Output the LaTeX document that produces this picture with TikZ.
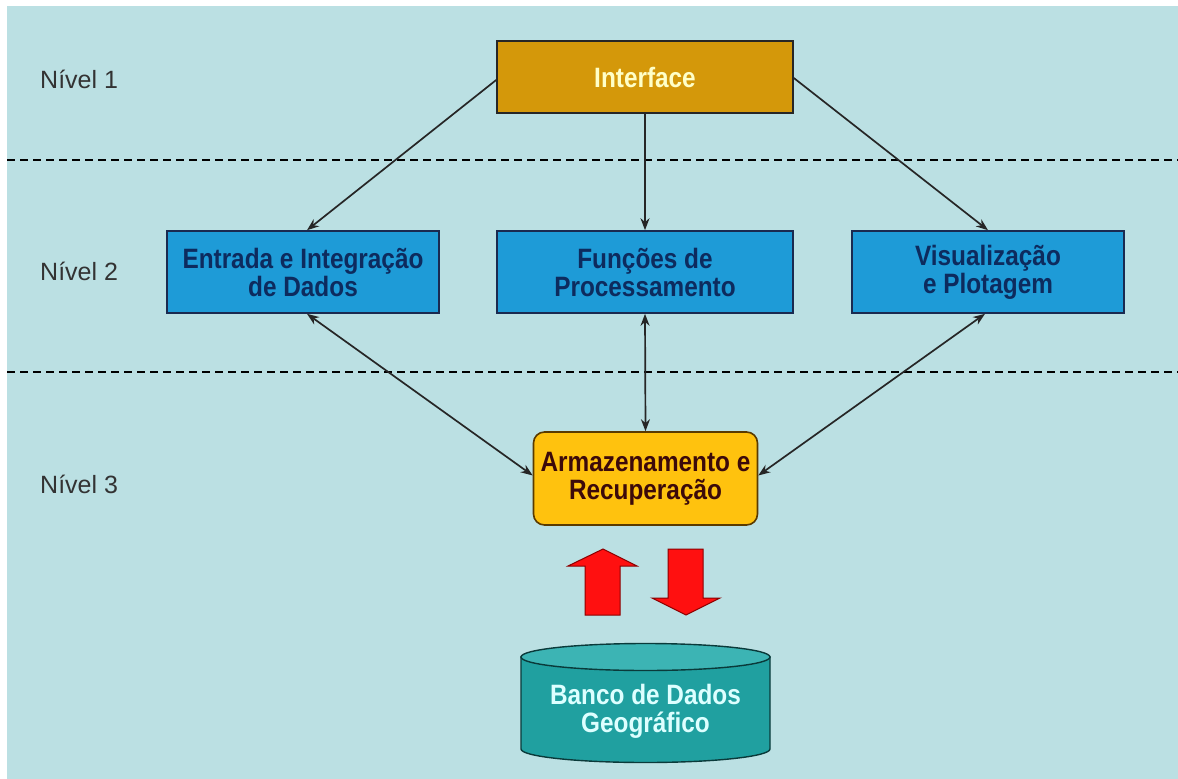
\documentclass[tikz,border=0pt]{standalone}
\usepackage{fontspec}
\setmainfont{Liberation Sans}
\newfontfamily\bxfont{Liberation Sans}[FakeStretch=0.87]
\usetikzlibrary{arrows.meta}
\definecolor{bgblue}{HTML}{BBE0E3}
\definecolor{ifill}{HTML}{D4980A}
\definecolor{itext}{HTML}{FFFFC8}
\definecolor{bfill}{HTML}{1E9BD7}
\definecolor{btext}{HTML}{0D2B5E}
\definecolor{bdraw}{HTML}{1A2A50}
\definecolor{afill}{HTML}{FFC20E}
\definecolor{atext}{HTML}{3C0A0A}
\definecolor{adraw}{HTML}{5A3A00}
\definecolor{cbody}{HTML}{20A0A0}
\definecolor{ctop}{HTML}{3CB4B4}
\definecolor{ctext}{HTML}{DDFFFF}
\definecolor{cdraw}{HTML}{0A3A3A}
\definecolor{rfill}{HTML}{FF1010}
\definecolor{rdraw}{HTML}{8B0000}
\definecolor{lvl}{HTML}{333333}
\tikzset{
  boxtxt/.style={font=\bxfont\bfseries\fontsize{28}{28}\selectfont, align=center, inner sep=0pt},
  ibox/.style={boxtxt, draw=black!85, line width=1.6pt, fill=ifill, text=itext, minimum width=296pt, minimum height=72pt},
  bbox/.style={boxtxt, draw=bdraw, line width=1.6pt, fill=bfill, text=btext, minimum height=82pt},
  abox/.style={boxtxt, draw=adraw, line width=1.6pt, fill=afill, text=atext, rounded corners=11pt, minimum width=224pt, minimum height=93pt},
  lvltxt/.style={font=\fontsize{25}{28}\selectfont, text=lvl, anchor=west, inner sep=0pt},
  conn/.style={line width=1.7pt, draw=black!85, -{Stealth[length=12pt,width=9pt]}},
  biconn/.style={line width=1.7pt, draw=black!85, {Stealth[length=12pt,width=9pt]}-{Stealth[length=12pt,width=9pt]}},
  sep/.style={line width=1.5pt, dash pattern=on 8pt off 5pt},
  bigarrow/.style={fill=rfill, draw=rdraw, line width=1pt, line join=miter}
}
\begin{document}
\begin{tikzpicture}[x=1pt,y=-1pt]
\useasboundingbox (0,0) rectangle (1178,779);
\fill[white] (0,0) rectangle (1178,779);
\fill[bgblue] (7,6) rectangle (1178,779);

% separators
\coordinate (s1a) at (7,160);  \coordinate (s1b) at (1178,160);
\coordinate (s2a) at (7,372);  \coordinate (s2b) at (1178,372);
\draw[sep] (s1a) -- (s1b);
\draw[sep] (s2a) -- (s2b);

% level labels
\node[lvltxt] (n1) at (40,79) {Nível 1};
\node[lvltxt] (n2) at (40,271) {Nível 2};
\node[lvltxt] (n3) at (40,484) {Nível 3};

% boxes
\node[ibox] (interface) at (645,77) {Interface};
\node[bbox, minimum width=272pt] (entrada) at (303,272) {Entrada e Integração\\de Dados};
\node[bbox, minimum width=296pt] (funcoes) at (645,272) {Funções de\\Processamento};
\node[bbox, minimum width=272pt] (visual) at (988,272) {Visualização\\e Plotagem};
\node[abox] (armaz) at (645.5,478.5) {Armazenamento e\\Recuperação};

% connectors
\draw[conn] ([yshift=-3pt]interface.west) -- ([xshift=4pt]entrada.north);
\draw[conn] (interface.south) -- (funcoes.north);
\draw[conn] ([yshift=-1pt]interface.east) -- (visual.north);
\draw[biconn] ([xshift=4pt]entrada.south) -- ([yshift=3pt]armaz.west);
\draw[biconn] (funcoes.south) -- (armaz.north);
\draw[biconn] ([xshift=-3pt]visual.south) -- ([yshift=3pt]armaz.east);

% red block arrows
\draw[bigarrow] (585,615) -- (585,566) -- (568,566) -- (603,549) -- (637,566) -- (620,566) -- (620,615) -- cycle;
\draw[bigarrow] (668,549) -- (703,549) -- (703,598) -- (720,598) -- (686,615) -- (652,598) -- (668,598) -- cycle;

% database cylinder
\draw[fill=cbody, draw=cdraw, line width=1.4pt]
  (521,657) -- (521,749) arc[start angle=180, end angle=360, x radius=124.5pt, y radius=13.5pt] -- (770,657) -- cycle;
\draw[fill=ctop, draw=cdraw, line width=1.4pt] (645.5,657) ellipse [x radius=124.5pt, y radius=13.5pt];
\node[boxtxt, text=ctext] (db) at (645.5,711) {Banco de Dados\\Geográfico};
\end{tikzpicture}
\end{document}
